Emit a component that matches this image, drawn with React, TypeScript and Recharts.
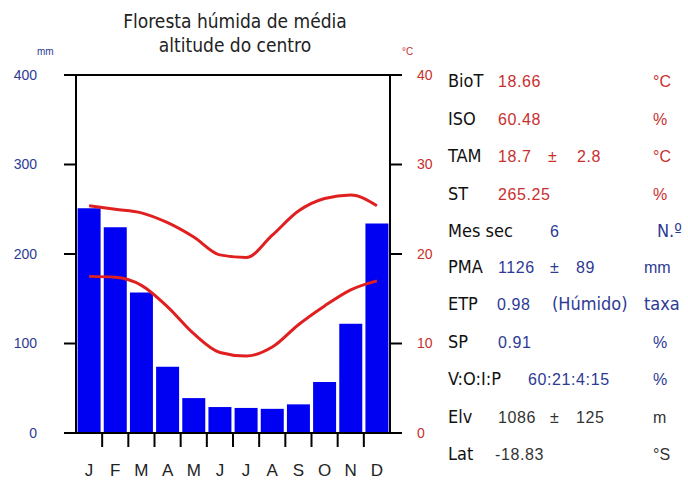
import React from 'react';
import { ComposedChart, Bar, Line, XAxis, YAxis, ReferenceLine } from 'recharts';

const months = ['J', 'F', 'M', 'A', 'M', 'J', 'J', 'A', 'S', 'O', 'N', 'D'];
const precip = [251, 230, 157, 74, 39, 29, 28, 27, 32, 57, 122, 234];
const tMax = [25.4, 25.0, 24.6, 23.5, 21.9, 19.9, 19.6, 22.1, 24.8, 26.2, 26.6, 25.4];
const tMin = [17.5, 17.4, 16.5, 14.1, 11.1, 9.0, 8.6, 9.6, 12.1, 14.2, 16.0, 17.0];
const mmTicks = [0, 100, 200, 300, 400];
const degTicks = [0, 10, 20, 30, 40];
const titleLines = ['Floresta húmida de média', 'altitude do centro'];

const RED = '#c8302e';
const BLUE = '#2d3a94';
const INK = '#333';

// rows of the stats table on the right
const statRows: { label: string; parts: { text: string; x: number; cond?: boolean }[]; unit: string; color: string; unitCond?: boolean }[] = [
  { label: 'BioT', parts: [{ text: '18.66', x: 498 }], unit: '°C', color: RED },
  { label: 'ISO', parts: [{ text: '60.48', x: 498 }], unit: '%', color: RED },
  { label: 'TAM', parts: [{ text: '18.7', x: 498 }, { text: '±', x: 548 }, { text: '2.8', x: 577 }], unit: '°C', color: RED },
  { label: 'ST', parts: [{ text: '265.25', x: 498 }], unit: '%', color: RED },
  { label: 'Mes sec', parts: [{ text: '6', x: 550 }], unit: 'N.º', color: BLUE, unitCond: true },
  { label: 'PMA', parts: [{ text: '1126', x: 498 }, { text: '±', x: 550 }, { text: '89', x: 576 }], unit: 'mm', color: BLUE },
  { label: 'ETP', parts: [{ text: '0.98', x: 497 }, { text: '(Húmido)', x: 552, cond: true }], unit: 'taxa', color: BLUE, unitCond: true },
  { label: 'SP', parts: [{ text: '0.91', x: 498 }], unit: '%', color: BLUE },
  { label: 'V:O:I:P', parts: [{ text: '60:21:4:15', x: 528 }], unit: '%', color: BLUE },
  { label: 'Elv', parts: [{ text: '1086', x: 498 }, { text: '±', x: 550 }, { text: '125', x: 576 }], unit: 'm', color: INK },
  { label: 'Lat', parts: [{ text: '-18.83', x: 495 }], unit: '°S', color: INK },
];
const rowBaselines = [87, 125, 162, 200, 237, 273, 310, 348, 385, 423, 460];

const data = months.map((m, i) => ({ m, p: precip[i], hi: tMax[i], lo: tMin[i] }));

const COND = "'Liberation Sans Narrow', 'DejaVu Sans Condensed', 'Roboto Condensed', sans-serif";
const ARIAL = "'Liberation Sans', Arial, sans-serif";

const PLOT_LEFT = 76;
const PLOT_RIGHT = 390;
const PLOT_BOTTOM = 433;
const BAND = (PLOT_RIGHT - PLOT_LEFT) / months.length;

function MonthTick(props: any) {
  const { x, payload, index } = props;
  return (
    <g>
      {index > 0 && (
        <line x1={x - BAND / 2} x2={x - BAND / 2} y1={PLOT_BOTTOM} y2={447} stroke="#000" strokeWidth={2} />
      )}
      <text x={x} y={476} textAnchor="middle" fontFamily={ARIAL} fontSize={17} fill="#222">
        {payload.value}
      </text>
    </g>
  );
}

export default function App() {
  return (
    <div style={{ position: 'absolute', left: 0, top: 0, width: 688, height: 482, background: '#fff' }}>
      <ComposedChart width={440} height={482} data={data} margin={{ top: 75, right: 0, bottom: 0, left: 0 }} barCategoryGap={1.6}>
        <XAxis dataKey="m" height={49} axisLine={false} tickLine={false} tick={<MonthTick />} interval={0} />
        <YAxis
          yAxisId="left"
          width={76}
          domain={[0, 400]}
          ticks={mmTicks}
          tickSize={12}
          tickMargin={27}
          axisLine={{ stroke: '#000', strokeWidth: 2 }}
          tickLine={{ stroke: '#000', strokeWidth: 2 }}
          tick={{ fill: BLUE, fontSize: 14, fontFamily: ARIAL }}
        />
        <YAxis
          yAxisId="right"
          orientation="right"
          width={50}
          domain={[0, 40]}
          ticks={degTicks}
          tickSize={12}
          tickMargin={15}
          axisLine={{ stroke: '#000', strokeWidth: 2 }}
          tickLine={{ stroke: '#000', strokeWidth: 2 }}
          tick={{ fill: RED, fontSize: 14, fontFamily: ARIAL, textAnchor: 'start' }}
        />
        <Bar yAxisId="left" dataKey="p" fill="#0000f2" isAnimationActive={false} />
        <Line yAxisId="right" type="monotone" dataKey="hi" stroke="#e02020" strokeWidth={3} dot={false} isAnimationActive={false} />
        <Line yAxisId="right" type="monotone" dataKey="lo" stroke="#e02020" strokeWidth={3} dot={false} isAnimationActive={false} />
        <ReferenceLine yAxisId="left" y={400} stroke="#000" strokeWidth={2} />
        <ReferenceLine yAxisId="left" y={0} stroke="#000" strokeWidth={2} />
      </ComposedChart>
      <svg width={688} height={482} style={{ position: 'absolute', left: 0, top: 0, pointerEvents: 'none' }}>
        {titleLines.map((t, i) => (
          <text key={i} x={235} y={28 + i * 24} textAnchor="middle" fontFamily={COND} fontSize={19} fill="#222">
            {t}
          </text>
        ))}
        <text x={37} y={55} fontFamily={ARIAL} fontSize={10} fill={BLUE}>mm</text>
        <text x={402} y={55} fontFamily={ARIAL} fontSize={10} fill={RED}>°C</text>
        {statRows.map((r, i) => (
          <g key={i}>
            <text x={448} y={rowBaselines[i]} fontFamily={COND} fontSize={18} fill="#111">{r.label}</text>
            {r.parts.map((p, j) => (
              <text
                key={j}
                x={p.x}
                y={rowBaselines[i]}
                fontFamily={p.cond ? COND : ARIAL}
                fontSize={p.cond ? 18 : 16}
                letterSpacing={p.cond ? 0 : 0.6}
                fill={r.color}
              >
                {p.text}
              </text>
            ))}
            <text
              x={r.unitCond ? (r.unit === 'N.º' ? 657 : 644) : r.unit === 'mm' ? 644 : 653}
              y={rowBaselines[i]}
              fontFamily={r.unitCond ? COND : ARIAL}
              fontSize={r.unitCond ? 18 : 16}
              fill={r.color}
            >
              {r.unit}
            </text>
          </g>
        ))}
      </svg>
    </div>
  );
}
